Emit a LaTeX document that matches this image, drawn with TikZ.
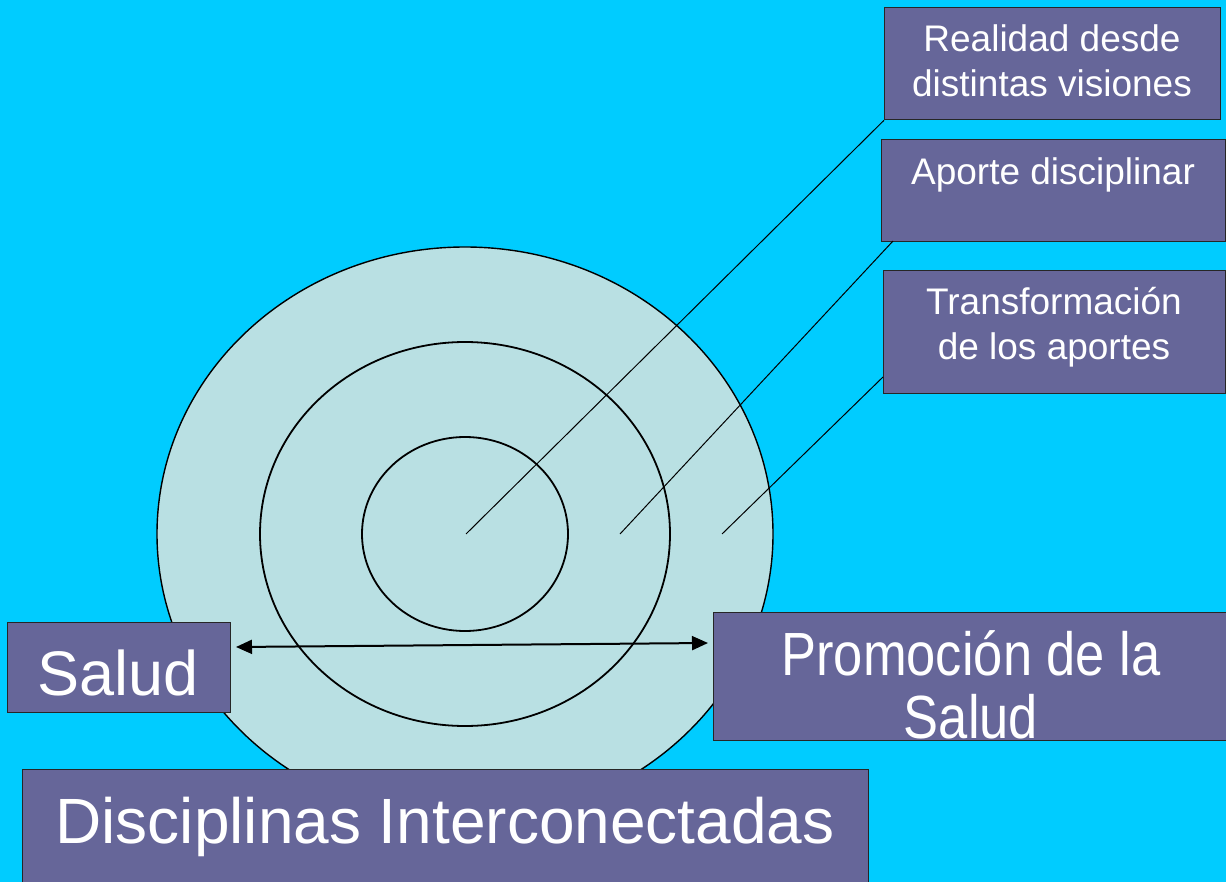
\documentclass[tikz,border=0pt]{standalone}
\usepackage{fontspec}
\usepackage{graphicx}
\setmainfont{Liberation Sans}
\usetikzlibrary{arrows.meta}
\definecolor{bg}{HTML}{00CCFF}
\definecolor{disc}{HTML}{B9E0E3}
\definecolor{boxc}{HTML}{666699}
\begin{document}
\begin{tikzpicture}[x=1pt,y=-1pt,
  box/.style={draw=black!85, line width=1.3pt, fill=boxc, inner sep=0pt, anchor=north west},
  lbl/.style={text=white, anchor=base, inner sep=0pt, align=center},
  ring/.style={draw=black, line width=1.8pt},
  lead/.style={draw=black, line width=1pt},
  small/.style={font=\fontsize{37}{45}\selectfont}]
\fill[bg] (0,0) rectangle (1226,882);
\useasboundingbox (0,0) rectangle (1226,882);
% discs
\draw[fill=disc, line width=1.4pt] (465,534) ellipse [x radius=308, y radius=287];
\draw[ring] (465,534) ellipse [x radius=205, y radius=192];
\draw[ring] (465,534) ellipse [x radius=103, y radius=97];
% boxes
\node[box, minimum width=336pt, minimum height=112pt] (real) at (884,7) {};
\node[box, minimum width=344pt, minimum height=102pt] (apo) at (881,139) {};
\node[box, minimum width=342pt, minimum height=123pt] (trans) at (883,270) {};
\node[box, minimum width=223pt, minimum height=90pt] (salud) at (7,622) {};
\node[box, minimum width=515pt, minimum height=128pt] (promo) at (713,612) {};
\node[box, minimum width=846pt, minimum height=130pt] (disc) at (22,769) {};
% texts (base anchor = last line's baseline)
\node[lbl, small] (realt) at (1052,97) {Realidad desde\\distintas visiones};
\node[lbl, small] (apot) at (1053,185) {Aporte disciplinar};
\node[lbl, small] (transt) at (1054,360) {Transformación\\de los aportes};
\node[lbl, font=\fontsize{63}{64}\selectfont] (saludt) at (118,695) {Salud};
\node[lbl, font=\fontsize{61}{63}\selectfont] (promot) at (971,738) {\scalebox{0.86}[1]{Promoción de la}\\\scalebox{0.86}[1]{Salud}};
\node[lbl, font=\fontsize{64}{64}\selectfont] (disct) at (445,843) {Disciplinas Interconectadas};
% leader lines
\coordinate (c0) at (466,534);
\coordinate (c1) at (620,534);
\coordinate (c2) at (722,534);
\coordinate (e1) at (893,241);
\coordinate (e2) at (883,377);
\draw[lead] (c0) -- (real.south west);
\draw[lead] (c1) -- (e1);
\draw[lead] (c2) -- (e2);
% arrow
\coordinate (aL) at (236,647);
\coordinate (aR) at (708,643);
\draw[line width=2pt, {Triangle[length=16pt,width=14pt]}-{Triangle[length=16pt,width=14pt]}] (aL) -- (aR);
\end{tikzpicture}
\end{document}
